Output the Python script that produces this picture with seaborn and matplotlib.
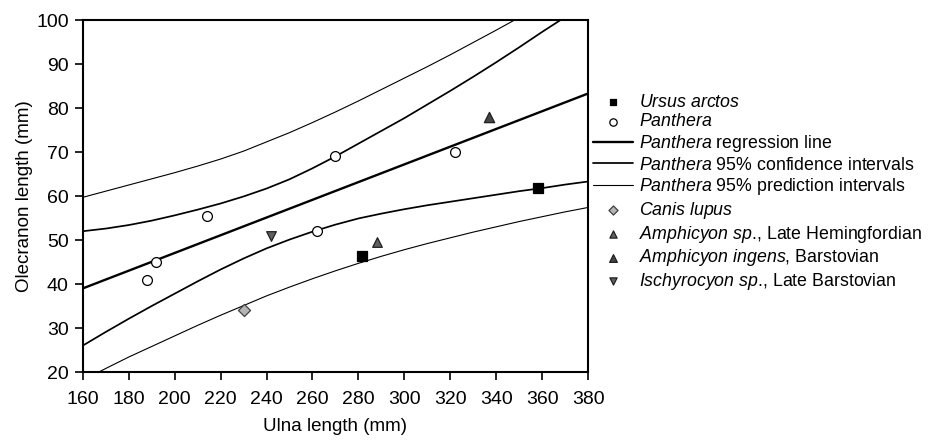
import numpy as np
import pandas as pd
import matplotlib
matplotlib.use("Agg")
import matplotlib.pyplot as plt
import seaborn as sns

# --- data ---
ursus_x = [281.5, 358.0]
ursus_y = [46.3, 61.8]

panthera_x = [188, 192, 214, 262, 270, 322]
panthera_y = [41.0, 45.0, 55.5, 52.0, 69.0, 70.0]

canis_x = [230]
canis_y = [34.0]

amph_sp_x = [288]
amph_sp_y = [49.6]

amph_ingens_x = [337]
amph_ingens_y = [78.0]

ischy_x = [242]
ischy_y = [50.8]

# regression line and interval curves, read every 10 mm
reg_x = [160, 380]
reg_y = [39.0, 83.3]

ci_up_x = [160, 170, 180, 190, 200, 210, 220, 230, 240, 250, 260, 270,
           280, 290, 300, 310, 320, 330, 340, 350, 360, 368]
ci_up_y = [52.0, 52.6, 53.4, 54.4, 55.6, 56.9, 58.3, 59.9, 61.7, 63.8, 66.3, 69.0,
           71.9, 74.8, 77.7, 80.8, 83.9, 87.1, 90.4, 93.8, 97.3, 100.0]
ci_lo_x = [160, 170, 180, 190, 200, 210, 220, 230, 240, 250, 260, 270,
           280, 290, 300, 310, 320, 330, 340, 350, 360, 370, 380]
ci_lo_y = [26.0, 29.1, 32.1, 35.0, 37.8, 40.6, 43.3, 45.8, 48.1, 50.1, 51.9, 53.5,
           54.9, 56.0, 57.0, 57.9, 58.7, 59.5, 60.3, 61.1, 61.8, 62.6, 63.3]

pi_up_x = [160, 170, 180, 190, 200, 210, 220, 230, 240, 250, 260, 270,
           280, 290, 300, 310, 320, 330, 340, 348]
pi_up_y = [59.7, 61.1, 62.5, 63.9, 65.3, 66.8, 68.4, 70.2, 72.3, 74.4, 76.7, 79.1,
           81.6, 84.2, 86.8, 89.4, 92.1, 94.9, 97.7, 100.0]
pi_lo_x = [167, 170, 180, 190, 200, 210, 220, 230, 240, 250, 260, 270,
           280, 290, 300, 310, 320, 330, 340, 350, 360, 370, 380]
pi_lo_y = [20.0, 20.8, 23.4, 25.8, 28.2, 30.6, 32.9, 35.1, 37.3, 39.3, 41.2, 43.0,
           44.7, 46.3, 47.8, 49.2, 50.5, 51.8, 53.0, 54.2, 55.3, 56.4, 57.4]

sns.set_theme(style="white")
plt.rcParams['font.family'] = ['Liberation Sans', 'DejaVu Sans']
plt.rcParams['mathtext.fontset'] = 'custom'
plt.rcParams['mathtext.rm'] = 'Liberation Sans'
plt.rcParams['mathtext.it'] = 'Liberation Sans:italic'
plt.rcParams['text.color'] = 'black'
plt.rcParams['axes.labelcolor'] = 'black'
plt.rcParams['xtick.color'] = 'black'
plt.rcParams['ytick.color'] = 'black'

fig = plt.figure(figsize=(9.35, 4.4), dpi=100)
ax = fig.add_axes([0.0885, 0.1545, 0.5405, 0.8])

def curve(xs, ys, lw, label):
    d = pd.DataFrame({"x": xs, "y": ys})
    sns.lineplot(data=d, x="x", y="y", ax=ax, color="black", lw=lw,
                 estimator=None, sort=False, label=label)

def points(xs, ys, marker, face, size, label, edge="black"):
    d = pd.DataFrame({"x": xs, "y": ys})
    sns.scatterplot(data=d, x="x", y="y", ax=ax, marker=marker, color=face,
                    edgecolor=edge, linewidth=0.9, s=size, label=label, zorder=5)

curve(reg_x, reg_y, 1.7, r"$\it{Panthera}$ regression line")
curve(ci_up_x, ci_up_y, 1.25, r"$\it{Panthera}$ 95% confidence intervals")
curve(ci_lo_x, ci_lo_y, 1.25, "_ci")
curve(pi_up_x, pi_up_y, 0.8, r"$\it{Panthera}$ 95% prediction intervals")
curve(pi_lo_x, pi_lo_y, 0.8, "_pi")

points(ursus_x, ursus_y, "s", "black", 45, r"$\it{Ursus\ arctos}$")
points(panthera_x, panthera_y, "o", "white", 50, r"$\it{Panthera}$")
points(canis_x, canis_y, "D", "#b4b4b4", 38, r"$\it{Canis\ lupus}$", edge="#404040")
points(amph_sp_x, amph_sp_y, "^", "#606060", 48, r"$\it{Amphicyon\ sp}$., Late Hemingfordian", edge="#202020")
points(amph_ingens_x, amph_ingens_y, "^", "#454545", 55, r"$\it{Amphicyon\ ingens}$, Barstovian", edge="#202020")
points(ischy_x, ischy_y, "v", "#606060", 48, r"$\it{Ischyrocyon\ sp}$., Late Barstovian", edge="#202020")

ax.set_xlim(160, 380)
ax.set_ylim(20, 100)
ax.set_xticks(range(160, 381, 20))
ax.set_yticks(range(20, 101, 10))
ax.tick_params(axis="both", which="major", direction="out", length=6, width=1.2,
               labelsize=14, color="black", labelcolor="black", bottom=True, left=True)
ax.tick_params(axis="x", pad=8)
ax.tick_params(axis="y", pad=4)
for sp in ax.spines.values():
    sp.set_color("black")
    sp.set_linewidth(1.5)
ax.set_xlabel("Ulna length (mm)", fontsize=13.5, labelpad=7, color="black")
ax.set_ylabel("Olecranon length (mm)", fontsize=13.5, labelpad=2, color="black")

handles, labels = ax.get_legend_handles_labels()
order = [r"$\it{Ursus\ arctos}$", r"$\it{Panthera}$",
         r"$\it{Panthera}$ regression line",
         r"$\it{Panthera}$ 95% confidence intervals",
         r"$\it{Panthera}$ 95% prediction intervals",
         r"$\it{Canis\ lupus}$",
         r"$\it{Amphicyon\ sp}$., Late Hemingfordian",
         r"$\it{Amphicyon\ ingens}$, Barstovian",
         r"$\it{Ischyrocyon\ sp}$., Late Barstovian"]
lookup = dict(zip(labels, handles))
leg = ax.legend([lookup[l] for l in order], order, loc="center left",
                bbox_to_anchor=(0.634, 0.562), bbox_transform=fig.transFigure,
                frameon=False, fontsize=12.8, handlelength=2.25, handletextpad=0.35,
                labelspacing=0.15, markerscale=0.75, borderaxespad=0, borderpad=0)
for t in leg.get_texts():
    t.set_color("black")

fig.savefig("out.png", dpi=100)
